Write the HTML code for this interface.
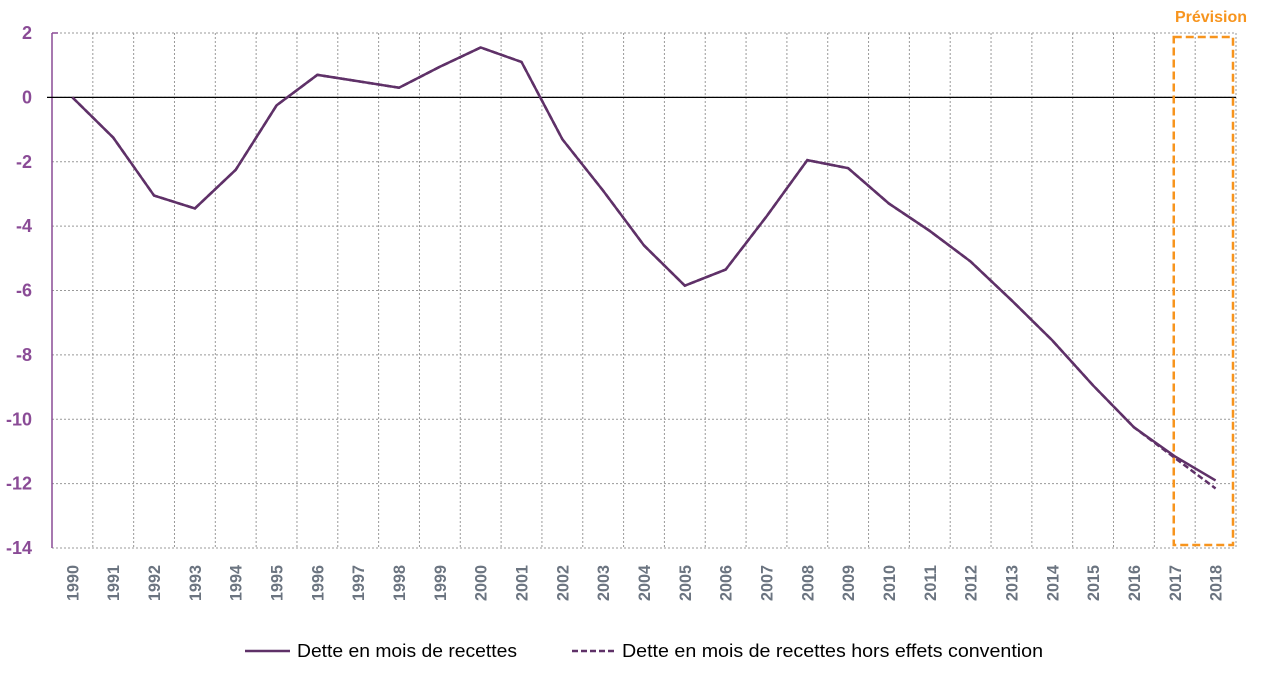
<!DOCTYPE html>
<html><head><meta charset="utf-8"><style>
html,body{margin:0;padding:0;background:#fff;width:1275px;height:679px;overflow:hidden}
svg{display:block;font-family:"Liberation Sans",sans-serif}
</style></head><body>
<svg id="chart" width="1275" height="679"></svg>
<script>
const years=[1990,1991,1992,1993,1994,1995,1996,1997,1998,1999,2000,2001,2002,2003,2004,2005,2006,2007,2008,2009,2010,2011,2012,2013,2014,2015,2016,2017,2018];
const dette=[0,-1.25,-3.05,-3.45,-2.25,-0.25,0.7,0.5,0.3,0.95,1.55,1.1,-1.3,-2.9,-4.6,-5.85,-5.35,-3.7,-1.95,-2.2,-3.3,-4.15,-5.1,-6.3,-7.55,-8.95,-10.25,-11.15,-11.9];
const detteHors=[0,-1.25,-3.05,-3.45,-2.25,-0.25,0.7,0.5,0.3,0.95,1.55,1.1,-1.3,-2.9,-4.6,-5.85,-5.35,-3.7,-1.95,-2.2,-3.3,-4.15,-5.1,-6.3,-7.55,-8.95,-10.25,-11.2,-12.15];
const yTicks=[2,0,-2,-4,-6,-8,-10,-12,-14];
const forecastStart=2017;

const NS="http://www.w3.org/2000/svg";
const svg=document.getElementById('chart');
const L=52,R=1236,T=33,B=548,yMin=-14,yMax=2;
const bw=(R-L)/years.length;
const x=i=>L+bw*(i+0.5);
const y=v=>T+(yMax-v)/(yMax-yMin)*(B-T);
function el(t,a,p){const e=document.createElementNS(NS,t);for(const k in a)e.setAttribute(k,a[k]);(p||svg).appendChild(e);return e;}

yTicks.forEach(v=>{
  const g=el('line',{x1:L,x2:R,y1:y(v),y2:y(v),stroke:'#999','stroke-width':1,'stroke-dasharray':'2,2'});
  
  
  const t=el('text',{x:32,y:y(v)+6,'text-anchor':'end','font-size':18,'font-weight':'bold',fill:'#8a4b96'});
  t.textContent=v;
  
  
});
for(let i=1;i<=years.length;i++){
  const g=el('line',{x1:L+bw*i,x2:L+bw*i,y1:T,y2:B,stroke:'#999','stroke-width':1,'stroke-dasharray':'2,2'});
  
  
}
const ya=el('line',{x1:L,x2:L,y1:T,y2:B,stroke:'#8a4b96','stroke-width':1.5});


const yt=el('line',{x1:L,x2:L+6,y1:T,y2:T,stroke:'#8a4b96','stroke-width':1.5});


const z=el('line',{x1:47,x2:R,y1:y(0),y2:y(0),stroke:'#000','stroke-width':1.3});


years.forEach((yr,i)=>{
  const t=el('text',{x:0,y:0,transform:`translate(${x(i)+6},601) rotate(-90)`,'font-size':17,'font-weight':'bold',fill:'#6b7480',textLength:36,lengthAdjust:'spacingAndGlyphs'});
  t.textContent=yr;
  
  
});
const fi=years.indexOf(forecastStart);
const box=el('rect',{x:x(fi)-1,y:37,width:R-3-(x(fi)-1),height:508,fill:'none',stroke:'#f7941d','stroke-width':2.5,'stroke-dasharray':'8,4'});


const pt=el('text',{x:1247,y:22,'text-anchor':'end','font-size':16,'font-weight':'bold',fill:'#f7941d'});
pt.textContent='Prévision';


const p1=el('path',{d:dette.map((v,i)=>(i?'L':'M')+x(i)+','+y(v)).join(''),fill:'none',stroke:'#5f3168','stroke-width':2.5});


const p2=el('path',{d:detteHors.map((v,i)=>(i?'L':'M')+x(i)+','+y(v)).join(''),fill:'none',stroke:'#5f3168','stroke-width':2.5,'stroke-dasharray':'6,3'});


const l1=el('line',{x1:245,x2:290,y1:651,y2:651,stroke:'#5f3168','stroke-width':2.5});


const t1=el('text',{x:297,y:657,'font-size':18,fill:'#000',textLength:220,lengthAdjust:'spacingAndGlyphs'});t1.textContent='Dette en mois de recettes';


const l2=el('line',{x1:572,x2:617,y1:651,y2:651,stroke:'#5f3168','stroke-width':2.5,'stroke-dasharray':'6,3'});


const t2=el('text',{x:622,y:657,'font-size':18,fill:'#000',textLength:421,lengthAdjust:'spacingAndGlyphs'});t2.textContent='Dette en mois de recettes hors effets convention';


</script>
</body></html>
